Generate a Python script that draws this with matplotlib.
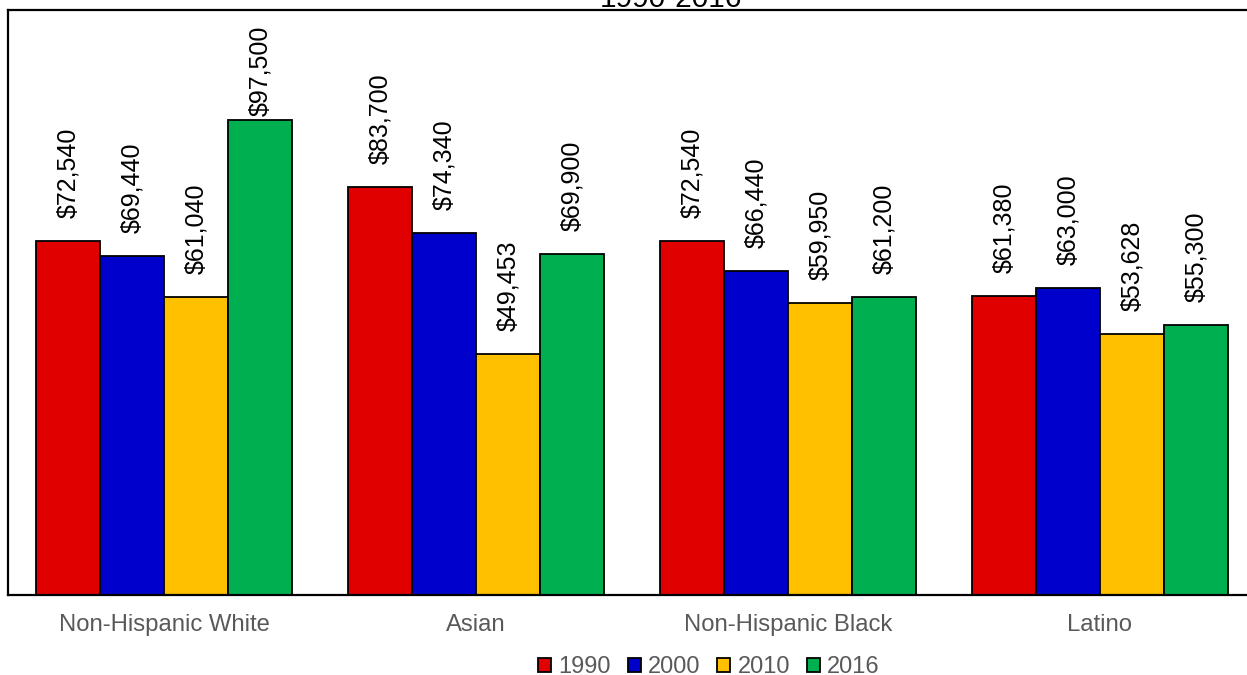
import numpy as np
import matplotlib
matplotlib.use('Agg')
import matplotlib.pyplot as plt

plt.rcParams['font.family'] = ['Liberation Sans', 'DejaVu Sans']

# Median household income by race/ethnicity
groups = ['Non-Hispanic White', 'Asian', 'Non-Hispanic Black', 'Latino']
years = ['1990', '2000', '2010', '2016']
income_1990 = [72540, 83700, 72540, 61380]
income_2000 = [69440, 74340, 66440, 63000]
income_2010 = [61040, 49453, 59950, 53628]
income_2016 = [97500, 69900, 61200, 55300]
series = [income_1990, income_2000, income_2010, income_2016]
colors = ['#E00000', '#0000CC', '#FFC000', '#00B050']

W, H = 1247, 675
fig = plt.figure(figsize=(W / 100, H / 100), dpi=100)
ax = fig.add_axes([8 / W, 1 - 595 / H, 1248 / W, 585 / H])

ymax = 120000
x = np.arange(len(groups))
width = 0.205

px_per_unit = 585 / ymax
for j, (vals, col, yr) in enumerate(zip(series, colors, years)):
    xs = x + (j - 1.5) * width
    ax.bar(xs, vals, width, color=col, edgecolor='black', linewidth=1.3,
           label=yr, zorder=2)
    for xi, v in zip(xs, vals):
        # keep the rotated label inside the frame for the tallest bars
        room = (ymax - v) * px_per_unit - 20 - 88
        off_px = max(4, min(23, room))
        ax.annotate(f'${v:,.0f}', (xi, v), xytext=(0, off_px * 0.72),
                    textcoords='offset points', rotation=90,
                    ha='center', va='bottom', fontsize=18, color='black')

ax.set_xlim(-0.5, 3.5)
ax.set_ylim(0, ymax)
ax.set_yticks([])
ax.set_xticks(x)
ax.set_xticklabels(groups, fontsize=17.2, color='#595959')
ax.tick_params(axis='x', length=0, pad=14)
for sp in ax.spines.values():
    sp.set_linewidth(1.6)
    sp.set_color('black')

fig.text(671 / W, 1 - 7 / H, '1990-2016', ha='center', va='baseline',
         fontsize=21.5, color='black')

leg = fig.legend(loc='center', bbox_to_anchor=(709 / W, 1 - 667 / H), ncol=4,
                 frameon=False, fontsize=17, handlelength=0.55,
                 handleheight=0.55, handletextpad=0.3, columnspacing=0.72,
                 borderaxespad=0, borderpad=0)
for t in leg.get_texts():
    t.set_color('#595959')

fig.savefig('out.png', dpi=100)
